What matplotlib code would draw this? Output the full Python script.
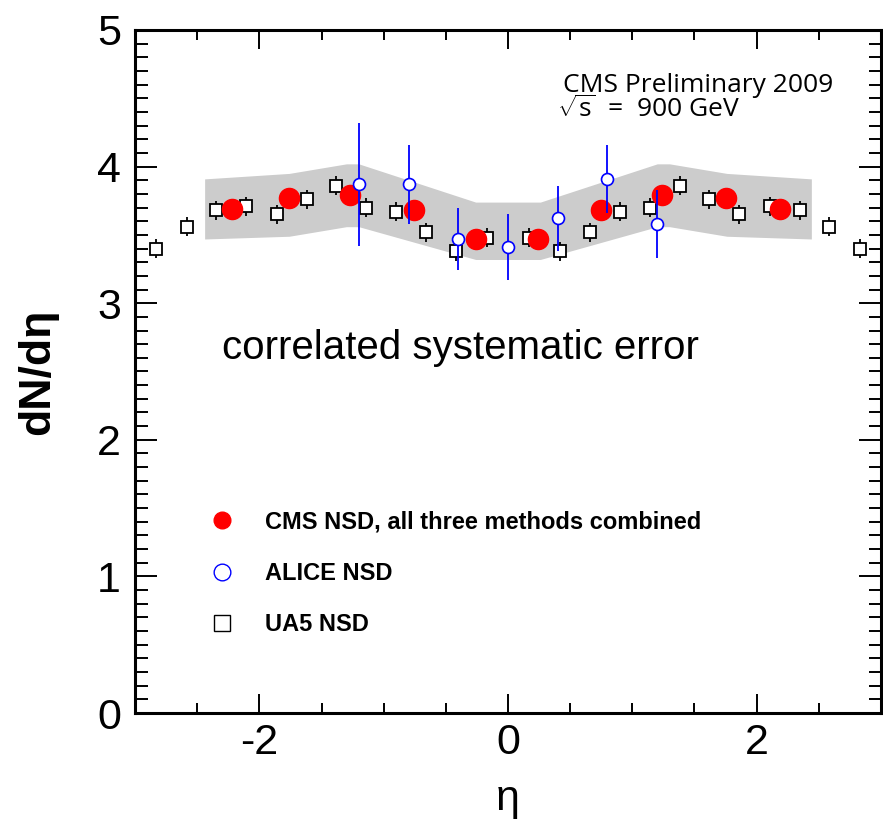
#!/usr/bin/env python
# coding: utf-8

import matplotlib
matplotlib.use('Agg')
import matplotlib.pyplot as plt
from matplotlib.lines import Line2D
from matplotlib.ticker import MultipleLocator

plt.rcParams['font.family'] = ['Liberation Sans', 'DejaVu Sans']
plt.rcParams['axes.unicode_minus'] = False
plt.rcParams['mathtext.fontset'] = 'custom'
plt.rcParams['mathtext.rm'] = 'Open Sans'

###############################################
# Data
###############################################
# CMS NSD, all three methods combined
cms_eta = [-2.22, -1.76, -1.27, -0.76, -0.26, 0.24, 0.75, 1.24, 1.75, 2.19]
cms_dndeta = [3.69, 3.77, 3.79, 3.68, 3.47, 3.47, 3.68, 3.79, 3.77, 3.69]

# correlated systematic band
band_eta = [-2.44, -1.76, -1.30, -1.20, -0.26, 0.26, 1.20, 1.30, 1.76, 2.44]
band_hi = [3.91, 3.95, 4.02, 4.02, 3.74, 3.74, 4.02, 4.02, 3.95, 3.91]
band_lo = [3.47, 3.49, 3.56, 3.56, 3.32, 3.32, 3.56, 3.56, 3.49, 3.47]

# ALICE NSD
alice_eta = [-1.2, -0.8, -0.4, 0.0, 0.4, 0.8, 1.2]
alice_dndeta = [3.87, 3.87, 3.47, 3.41, 3.62, 3.91, 3.58]
alice_err = [0.45, 0.29, 0.23, 0.24, 0.24, 0.25, 0.25]

# UA5 NSD
ua5_eta = [-2.83, -2.58, -2.35, -2.11, -1.86, -1.62, -1.38, -1.14, -0.90, -0.66, -0.42, -0.17,
           0.17, 0.42, 0.66, 0.90, 1.14, 1.38, 1.62, 1.86, 2.11, 2.35, 2.58, 2.83]
ua5_dndeta = [3.40, 3.56, 3.68, 3.71, 3.65, 3.76, 3.86, 3.70, 3.67, 3.52, 3.38, 3.48,
              3.48, 3.38, 3.52, 3.67, 3.70, 3.86, 3.76, 3.65, 3.71, 3.68, 3.56, 3.40]
ua5_err = [0.07] * len(ua5_eta)

###############################################
# Plot
###############################################
fig = plt.figure(figsize=(8.83, 8.19), dpi=100)
ax = fig.add_axes([0.1529, 0.1294, 0.8448, 0.834])

ax.fill_between(band_eta, band_lo, band_hi, color='#cccccc', lw=0, zorder=1)

ax.errorbar(ua5_eta, ua5_dndeta, yerr=ua5_err, fmt='s', ms=8.6, mfc='white', mec='black',
            mew=1.3, ecolor='black', elinewidth=1.3, capsize=0, zorder=3)
ax.plot(cms_eta, cms_dndeta, 'o', ms=14.5, color='red', mec='red', zorder=4)
ax.errorbar(alice_eta, alice_dndeta, yerr=alice_err, fmt='o', ms=8.6, mfc='white', mec='blue',
            mew=1.2, ecolor='blue', elinewidth=1.3, capsize=0, zorder=5)

ax.set_xlim(-3, 3)
ax.set_ylim(0, 5)
ax.xaxis.set_major_locator(MultipleLocator(2))
ax.xaxis.set_minor_locator(MultipleLocator(0.5))
ax.yaxis.set_major_locator(MultipleLocator(1))
ax.yaxis.set_minor_locator(MultipleLocator(0.1))
ax.tick_params(which='both', direction='in', top=True, right=True, width=1.4, labelsize=31)
ax.tick_params(axis='x', which='major', length=14, pad=7)
ax.tick_params(axis='x', which='minor', length=7)
ax.tick_params(axis='y', which='major', length=16, pad=10)
ax.tick_params(axis='y', which='minor', length=9)
for sp in ax.spines.values():
	sp.set_linewidth(2.2)

ax.set_xlabel('η', fontsize=31, labelpad=12)
ax.set_ylabel('dN/dη', fontsize=32, fontweight='bold', labelpad=28)

ax.text(0.1166, 0.534, 'correlated systematic error', transform=ax.transAxes,
        fontsize=29, va='center', ha='left')
ax.text(0.574, 0.919, 'CMS Preliminary 2009', transform=ax.transAxes,
        fontsize=19, va='center', ha='left', family='Open Sans')
ax.text(0.566, 0.883, r'$\sqrt{\mathrm{s}}$  =  900 GeV', transform=ax.transAxes,
        fontsize=19, va='center', ha='left', family='Open Sans')

handles = [
	Line2D([], [], ls='none', marker='o', ms=12, color='red', mec='red'),
	Line2D([], [], ls='none', marker='o', ms=12, mfc='white', mec='blue', mew=1.0),
	Line2D([], [], ls='none', marker='s', ms=12, mfc='white', mec='black', mew=1.0),
]
labels = ['CMS NSD, all three methods combined', 'ALICE NSD', 'UA5 NSD']
ax.legend(handles, labels, loc='upper left', bbox_to_anchor=(0.0885, 0.31), frameon=False,
          prop={'weight': 'bold', 'size': 17},
          handlelength=1.0, handletextpad=1.32, labelspacing=1.2, borderaxespad=0)

plt.savefig('out.png', dpi=100)
